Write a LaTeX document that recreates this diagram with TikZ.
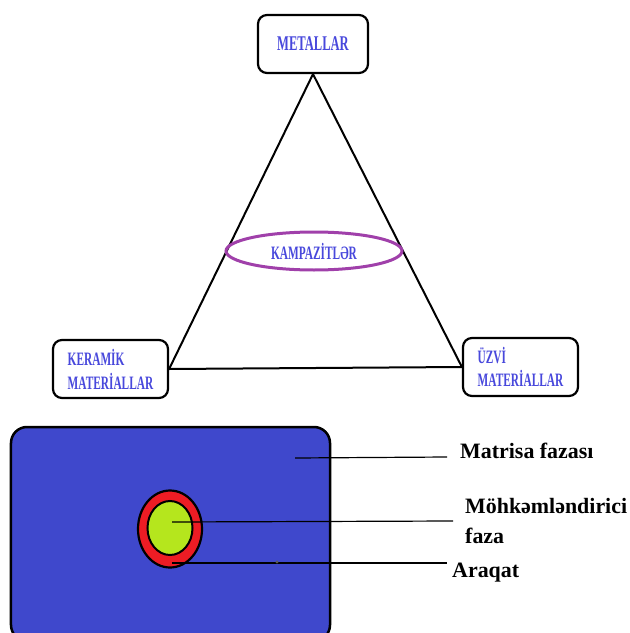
\documentclass[tikz,border=0pt]{standalone}
\usepackage{fontspec}
\setmainfont{Liberation Serif}
\newfontfamily\narrowfont{Liberation Serif}[FakeStretch=0.6]
\usetikzlibrary{shapes.geometric}
\definecolor{lblblue}{RGB}{72,72,220}
\definecolor{matblue}{RGB}{63,72,204}
\definecolor{ringred}{RGB}{237,28,36}
\definecolor{fibgreen}{RGB}{181,230,29}
\definecolor{ovalpurple}{RGB}{160,64,170}
\begin{document}
\begin{tikzpicture}[x=1bp,y=-1bp,
  matbox/.style={draw=black, line width=2.2bp, rounded corners=9bp, fill=white, inner sep=0pt,
    text=lblblue, align=left, minimum height=58bp},
  edge/.style={draw=black, line width=2bp},
  lead/.style={draw=black, line width=1.2bp},
  callout/.style={font=\bfseries\fontsize{22}{26}\selectfont, inner sep=0pt, anchor=base west, text=black}]
\useasboundingbox (0,0) rectangle (630,633);
\begin{scope}
\clip (0,0) rectangle (630,633);
% top triangle diagram
\node[matbox, minimum width=110bp, font={\narrowfont\bfseries\fontsize{21}{24}\selectfont}]
  (met) at (313,44) {METALLAR};
\node[matbox, minimum width=115bp, font={\narrowfont\bfseries\fontsize{19}{24}\selectfont}]
  (ker) at (110.5,369) {KERAMİK\\MATERİALLAR};
\node[matbox, minimum width=115bp, font={\narrowfont\bfseries\fontsize{19}{23}\selectfont}]
  (uzv) at (520.5,367) {ÜZVİ\\MATERİALLAR};
\draw[edge] (met.south) -- (ker.east);
\draw[edge] (met.south) -- (uzv.west);
\draw[edge] (ker.east) -- (uzv.west);
\node[ellipse, draw=ovalpurple, line width=3bp, minimum width=176bp, minimum height=38bp,
  inner sep=0pt, text=lblblue, font={\narrowfont\bfseries\fontsize{19}{22}\selectfont}]
  (komp) at (314,251) {KAMPAZİTLƏR};
% bottom composite sketch
\node[draw=black, fill=matblue, line width=2.5bp, rounded corners=16bp,
  minimum width=319bp, minimum height=214bp, inner sep=0pt] (mat) at (170.5,534) {};
\node[ellipse, draw=black, fill=ringred, line width=2.2bp, minimum width=64bp,
  minimum height=77bp, inner sep=0pt] (ring) at (170,529) {};
\node[ellipse, draw=black, fill=fibgreen, line width=2bp, minimum width=45bp,
  minimum height=54bp, inner sep=0pt] (fib) at (170,528) {};
% labels
\node[callout] (lm) at (460,458) {Matrisa fazası};
\node[callout] (lf1) at (465,513) {Möhkəmləndirici};
\node[callout] (lf2) at (465,543) {faza};
\node[callout] (la) at (452,577) {Araqat};
% leader lines
\coordinate (pm) at (295,458);
\coordinate (em) at (447,457);
\coordinate (pf) at (172,522);
\coordinate (ef) at (453,521);
\coordinate (pa) at (172,563);
\coordinate (ea) at (447,563);
\draw[lead] (pm) -- (em);
\draw[lead] (pf) -- (ef);
\draw[lead] (pa) -- (ea);
\coordinate (dot) at (277,562);
\fill[gray!70!black] (dot) circle (1.6bp);
\end{scope}
\end{tikzpicture}
\end{document}
